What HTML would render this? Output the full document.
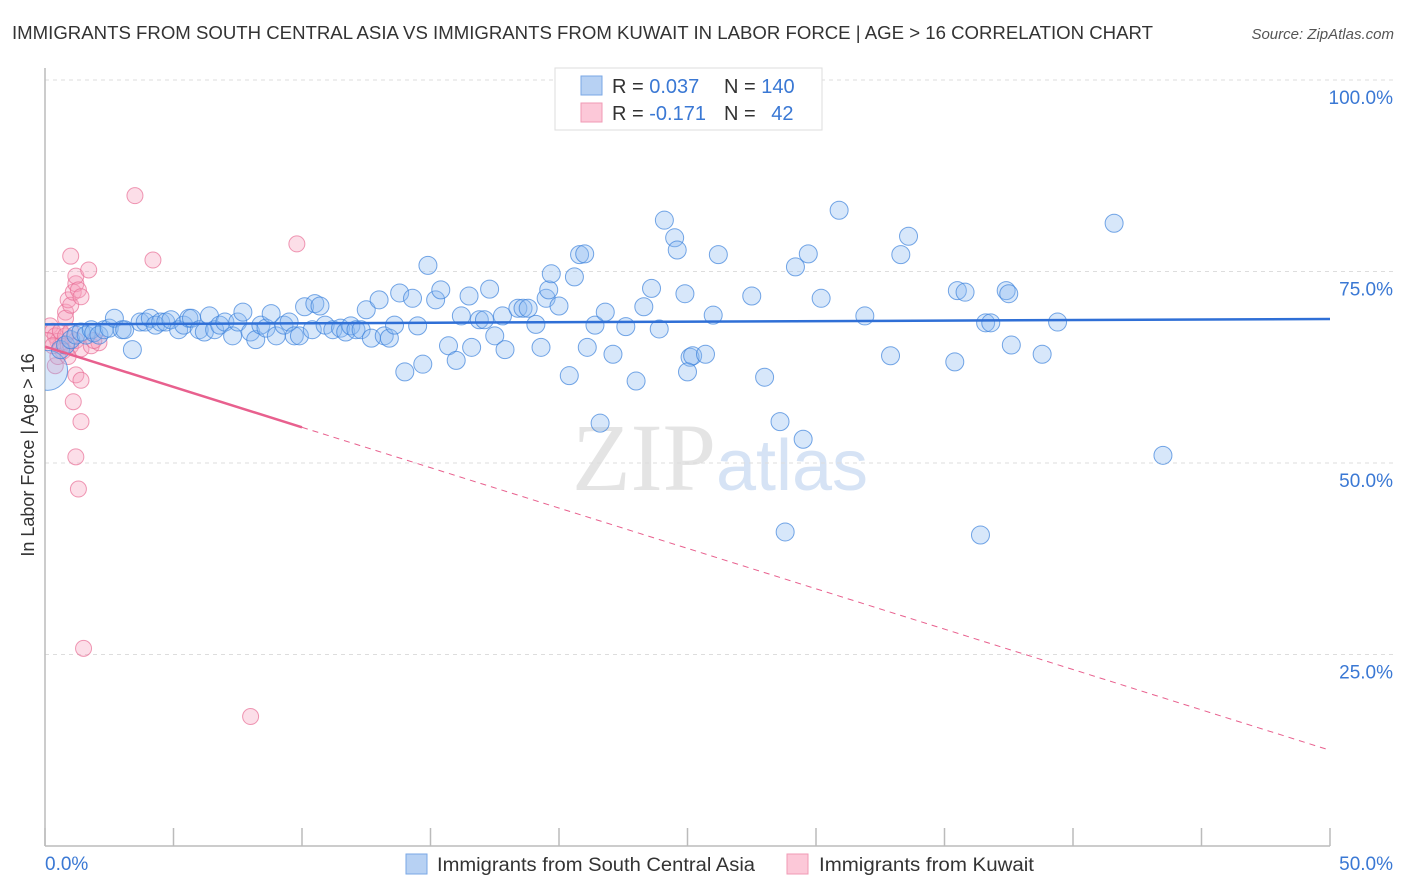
<!DOCTYPE html>
<html><head><meta charset="utf-8">
<style>
html,body{margin:0;padding:0;background:#fff;width:1406px;height:892px;overflow:hidden;font-family:"Liberation Sans",sans-serif;}
</style></head>
<body>
<svg id="chart" width="1406" height="892" xmlns="http://www.w3.org/2000/svg" font-family="Liberation Sans, sans-serif">
<defs><clipPath id="plotclip"><rect x="45" y="60" width="1360" height="790"/></clipPath></defs>
<text x="12" y="39" font-size="18" fill="#333" textLength="1141" lengthAdjust="spacingAndGlyphs">IMMIGRANTS FROM SOUTH CENTRAL ASIA VS IMMIGRANTS FROM KUWAIT IN LABOR FORCE | AGE &gt; 16 CORRELATION CHART</text>
<text x="1394" y="39" font-size="15" fill="#555" font-style="italic" text-anchor="end">Source: ZipAtlas.com</text>
<text x="720" y="490" font-size="96" fill="#e4e4e4" text-anchor="middle" font-family="Liberation Serif, serif">ZIP<tspan fill="#d6e3f5" font-family="Liberation Sans, sans-serif" font-size="72">atlas</tspan></text>
<text transform="translate(34,455) rotate(-90)" font-size="18" fill="#333" text-anchor="middle">In Labor Force | Age &gt; 16</text>
<g id="grid"></g><g id="ticks"></g><g id="pink" clip-path="url(#plotclip)"></g><g id="blue" clip-path="url(#plotclip)"></g><g id="lines"></g>
<g>
<rect x="555" y="68" width="267" height="62" fill="#fff" stroke="#ddd"/>
<rect x="581" y="76" width="21" height="19" fill="#b7d1f3" stroke="#7aa7e6"/>
<rect x="581" y="103" width="21" height="19" fill="#fcc8d8" stroke="#f09ab5"/>
<text x="612" y="93" font-size="20" fill="#333">R = <tspan fill="#3a78d4">0.037</tspan></text>
<text x="724" y="93" font-size="20" fill="#333">N = <tspan fill="#3a78d4">140</tspan></text>
<text x="612" y="120" font-size="20" fill="#333">R = <tspan fill="#3a78d4">-0.171</tspan></text>
<text x="724" y="120" font-size="20" fill="#333">N = <tspan fill="#3a78d4" dx="10">42</tspan></text>
</g>
<g>
<rect x="406" y="854" width="21" height="20" fill="#b7d1f3" stroke="#7aa7e6"/>
<text x="437" y="871" font-size="19" fill="#333" textLength="318" lengthAdjust="spacingAndGlyphs">Immigrants from South Central Asia</text>
<rect x="787" y="854" width="21" height="20" fill="#fcc8d8" stroke="#f09ab5"/>
<text x="819" y="871" font-size="19" fill="#333" textLength="215" lengthAdjust="spacingAndGlyphs">Immigrants from Kuwait</text>
</g>
</svg>
<script>
const blueX=[0.1,0.6,0.8,1.0,1.2,1.4,1.6,1.8,1.9,2.1,2.3,2.5,2.7,3.0,3.1,3.4,3.7,3.9,4.1,4.3,4.5,4.7,4.9,5.2,5.4,5.6,5.7,6.0,6.2,6.4,6.6,6.8,7.0,7.3,7.5,7.7,8.0,8.2,8.4,8.6,8.8,9.0,9.3,9.5,9.7,9.9,10.1,10.4,10.5,10.7,10.9,11.2,11.5,11.7,11.9,12.1,12.3,12.5,12.7,13.0,13.2,13.4,13.6,13.8,14.0,14.3,14.5,14.7,14.9,15.2,15.4,15.7,16.0,16.2,16.5,16.6,16.9,17.1,17.3,17.5,17.8,17.9,18.4,18.6,18.8,19.1,19.3,19.5,19.6,19.7,20.0,20.4,20.6,20.8,21.0,21.1,21.4,21.6,21.8,22.1,22.6,23.0,23.3,23.6,23.9,24.1,24.5,24.6,25.1,25.2,25.0,24.9,25.7,26.0,26.2,27.5,28.0,28.6,28.8,29.2,29.5,29.7,30.2,30.9,31.9,32.9,33.3,33.6,35.4,35.5,35.8,36.4,36.6,36.8,37.4,37.5,37.6,38.8,39.4,41.6,43.5];
const blueY=[62.1,64.8,65.4,66.1,66.7,67.1,66.7,67.4,67.0,66.7,67.4,67.6,68.9,67.4,67.4,64.8,68.4,68.4,68.9,68.0,68.4,68.4,68.7,67.4,68.0,68.9,68.9,67.4,67.1,69.2,67.4,68.0,68.4,66.6,68.4,69.7,67.1,66.1,68.0,67.6,69.5,66.6,68.0,68.4,66.6,66.6,70.4,67.4,70.8,70.5,68.0,67.4,67.6,67.1,67.9,67.4,67.4,70.0,66.3,71.3,66.6,66.3,68.0,72.2,61.9,71.5,67.9,62.9,75.8,71.3,72.6,65.3,63.4,69.2,71.8,65.1,68.7,68.7,72.7,66.6,69.2,64.8,70.2,70.2,70.2,68.1,65.1,71.5,72.6,74.7,70.5,61.4,74.3,77.2,77.3,65.1,68.0,55.2,69.7,64.2,67.8,60.7,70.4,72.8,67.5,81.7,79.4,77.8,63.8,64.0,61.9,72.1,64.2,69.3,77.2,71.8,61.2,55.4,41.0,75.6,53.1,77.3,71.5,83.0,69.2,64.0,77.2,79.6,63.2,72.5,72.3,40.6,68.3,68.3,72.5,72.1,65.4,64.2,68.4,81.3,51.0];
const pinkX=[0.2,0.3,0.4,0.5,0.6,0.7,0.4,0.8,0.8,0.9,1.0,1.0,1.1,1.2,1.2,1.3,1.4,1.7,3.5,4.2,9.8,1.2,1.1,1.4,1.4,1.2,1.3,1.5,8.0,1.0,1.2,1.4,1.8,2.1,0.6,0.8,1.0,0.5,1.9,0.1,0.3,0.9];
const pinkY=[67.9,67.2,66.6,65.9,65.3,64.6,62.7,69.7,68.9,71.3,70.6,77.0,72.3,73.4,74.4,72.6,71.7,75.2,84.9,76.5,78.6,61.5,58.0,60.8,55.4,50.8,46.6,25.8,16.9,65.3,66.0,64.9,65.3,65.7,67.2,66.6,67.2,63.9,66.0,66.0,65.3,63.9];
const blueSize=[20].concat(new Array(blueX.length-1).fill(9));
const blueTrend=[68.1,68.8];
const pinkTrend=[65.2,12.5];
const pinkSolidEnd=10;
const yTicks=[25,50,75,100];
const xTickVals=[0,5,10,15,20,25,30,35,40,45,50];
const NS="http://www.w3.org/2000/svg";
const X=v=>45+v/50*1285;
const Y=v=>846-v/100*766;
function mk(tag,attrs,parent){const e=document.createElementNS(NS,tag);for(const k in attrs)e.setAttribute(k,attrs[k]);parent.appendChild(e);return e;}
const grid=document.getElementById('grid'),ticks=document.getElementById('ticks');
yTicks.forEach(t=>{
  const l=mk('line',{x1:45,x2:1393,y1:Y(t),y2:Y(t),stroke:'#ddd','stroke-dasharray':'4,4'},grid);
  
  
  const tx=mk('text',{x:1393,y:Y(t)+24,'font-size':19,fill:'#3a78d4','text-anchor':'end'},ticks);
  tx.textContent=t.toFixed(1)+'%';
  
  
});
let ax=mk('line',{x1:45,x2:45,y1:68,y2:846,stroke:'#bbb','stroke-width':1.5},grid);


let bx=mk('line',{x1:45,x2:1330,y1:846,y2:846,stroke:'#bbb','stroke-width':1.5},grid);


xTickVals.forEach(t=>{
  const l=mk('line',{x1:X(t),x2:X(t),y1:828,y2:846,stroke:'#bbb','stroke-width':1.5},ticks);
  
  
});
[[0,'start',45],[50,'end',1393]].forEach(([v,a,x])=>{
  const tx=mk('text',{x:x,y:870,'font-size':19,fill:'#3a78d4','text-anchor':a},ticks);
  tx.textContent=v.toFixed(1)+'%';
  
  
});
const pg=document.getElementById('pink'),bg=document.getElementById('blue'),lg=document.getElementById('lines');
pinkX.forEach((v,i)=>{
  const c=mk('circle',{cx:X(v),cy:Y(pinkY[i]),r:8,fill:'rgba(246,160,190,0.35)',stroke:'rgba(232,110,150,0.7)','stroke-width':1},pg);
  
  
});
blueX.forEach((v,i)=>{
  const c=mk('circle',{cx:X(v),cy:Y(blueY[i]),r:blueSize[i],fill:'rgba(140,185,240,0.35)',stroke:'rgba(60,130,220,0.7)','stroke-width':1},bg);
  
  
});
const bl=mk('line',{x1:X(0),y1:Y(blueTrend[0]),x2:X(50),y2:Y(blueTrend[1]),stroke:'#2f6fd6','stroke-width':2.5},lg);


const pMid=pinkTrend[0]+(pinkTrend[1]-pinkTrend[0])*pinkSolidEnd/50;
const pl=mk('line',{x1:X(0),y1:Y(pinkTrend[0]),x2:X(pinkSolidEnd),y2:Y(pMid),stroke:'#e8608e','stroke-width':2.5},lg);


const pd=mk('line',{x1:X(pinkSolidEnd),y1:Y(pMid),x2:X(50),y2:Y(pinkTrend[1]),stroke:'#e8608e','stroke-width':1,'stroke-dasharray':'6,5'},lg);


</script>
</body></html>
